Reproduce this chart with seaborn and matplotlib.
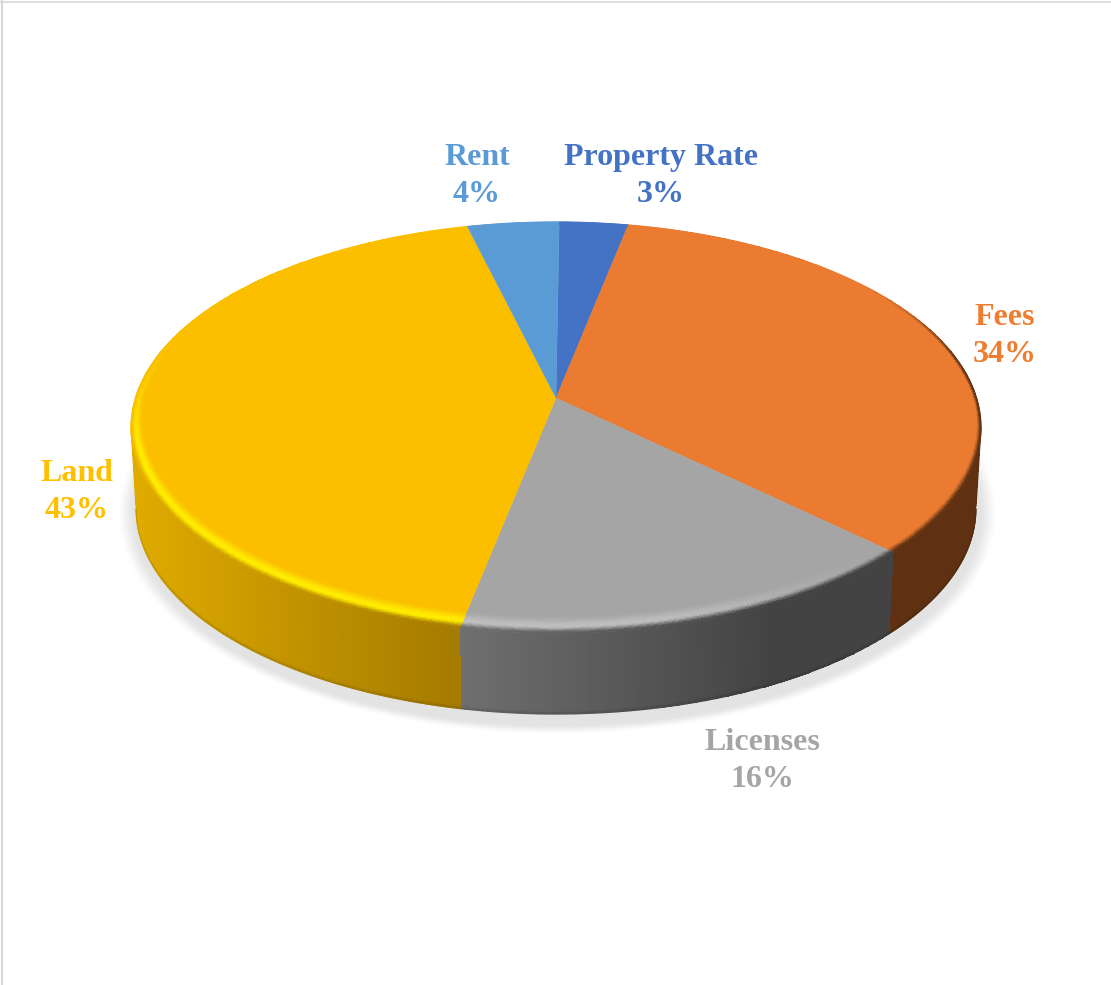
import numpy as np
import seaborn as sns
import matplotlib
matplotlib.use("Agg")
import matplotlib.pyplot as plt
from matplotlib.colors import to_rgb

categories = ["Property Rate", "Fees", "Licenses", "Land", "Rent"]
shares = [3, 34, 16, 43, 4]
slice_hex = ["#4472C4", "#EA7B31", "#A5A5A5", "#FBBF00", "#5B9BD5"]
label_hex = ["#4472C4", "#ED7D31", "#A5A5A5", "#FFC000", "#5B9BD5"]

# Layout of the tilted disc, in figure pixels
WIDTH, HEIGHT = 1111, 985
CX, CY = 556.0, 398.0
AX_U, AX_V, TILT = 420.6, 201.3, 0.1436
DEPTH = 81.0
BASE_SCALE = 0.988
START_DEG = 0.5

label_anchor = {
    "Property Rate": (661, 176),
    "Fees": (1005, 336),
    "Licenses": (762, 761),
    "Land": (77, 492),
    "Rent": (477, 176),
}

# Wall shading: colour at the left and right ends of a horizontal ramp
wall_ramp = {
    "Property Rate": ("#2A4A86", "#2A4A86", 0, 1),
    "Fees": ("#5F3112", "#5F3112", 0, 1),
    "Licenses": ("#707070", "#434343", 455, 770),
    "Land": ("#DFAB00", "#A57B00", 137, 455),
    "Rent": ("#3A6A96", "#3A6A96", 0, 1),
}
# Bevel highlight colour and its strength at the start/end of each slice
bevel_light = {
    "Property Rate": ("#4472C4", 0.0, 0.0),
    "Fees": ("#EA7B31", 0.0, 0.0),
    "Licenses": ("#BEBEBE", 0.0, 1.0),
    "Land": ("#FFEC00", 1.0, 1.0),
    "Rent": ("#5B9BD5", 0.0, 0.0),
}
# How far round the back the dark outer edge of the bevel reaches
rim_onset = {"Property Rate": 0.62, "Fees": 0.62, "Licenses": 0.62, "Land": -0.02, "Rent": 0.62}

sns.set_theme(style="white")
plt.rcParams["font.family"] = ["Liberation Serif", "DejaVu Serif"]
slice_colors = sns.color_palette(slice_hex)
label_colors = sns.color_palette(label_hex)


def project(r, theta):
    """Perspective view of polar disc coordinates (theta clockwise from the back)."""
    u, v = r * np.sin(theta), r * np.cos(theta)
    d = 1 + TILT * v
    return CX + AX_U * u / d, CY - AX_V * v / d


def smooth(t):
    t = np.clip(t, 0, 1)
    return t * t * (3 - 2 * t)


def wall_color(name, x):
    left, right, x0, x1 = wall_ramp[name]
    t = np.clip((x - x0) / (x1 - x0), 0, 1)[..., None]
    return np.array(to_rgb(left)) * (1 - t) + np.array(to_rgb(right)) * t


fig = plt.figure(figsize=(WIDTH / 100, HEIGHT / 100), dpi=100, facecolor="white")
ax = fig.add_axes([0, 0, 1, 1])
ax.set_xlim(0, WIDTH)
ax.set_ylim(HEIGHT, 0)
ax.axis("off")

# Thin frame along the top and left edges
ax.plot([2, 2], [0, HEIGHT], color="#D9D9D9", lw=1.5, zorder=1)
ax.plot([0, WIDTH], [1.5, 1.5], color="#D9D9D9", lw=1.2, zorder=1)

# Soft drop shadow below the disc
gx, gy = np.meshgrid(np.arange(100, 1020), np.arange(400, 760))
rho = np.hypot((gx - 557) / 441.0, (gy - 513) / 221.0)
shadow = np.zeros(gx.shape + (4,))
shadow[..., :3] = 0.80
shadow[..., 3] = 0.55 * (1 - smooth((rho - 0.955) / 0.045))
ax.imshow(shadow, extent=(100, 1020, 760, 400), aspect="auto", zorder=1.5,
          interpolation="bilinear")
ax.set_xlim(0, WIDTH)
ax.set_ylim(HEIGHT, 0)

edges = np.deg2rad(START_DEG) + np.cumsum([0] + shares) / sum(shares) * 2 * np.pi

# Outer walls: only the arc between the two silhouette tangents faces the viewer
tangent = np.arccos(-TILT)
for i, name in enumerate(categories):
    lo = max(edges[i], tangent)
    hi = min(edges[i + 1], 2 * np.pi - tangent)
    if lo >= hi:
        continue
    n = max(int(shares[i] * 8), 8)
    th = np.linspace(lo, hi, n + 1)
    z = np.linspace(0, 1, 41)
    x_top, y_top = project(1.0, th)
    x_base = CX + (x_top - CX) * BASE_SCALE
    X = x_top[None, :] * (1 - z[:, None]) + x_base[None, :] * z[:, None]
    Y = y_top[None, :] + DEPTH * z[:, None]
    xc = 0.25 * (X[:-1, :-1] + X[1:, :-1] + X[:-1, 1:] + X[1:, 1:])
    C = wall_color(name, xc)
    zc = 0.5 * (z[:-1] + z[1:])
    C = C * (1 - 0.12 * smooth((zc - 0.95) / 0.05))[:, None, None]
    ax.pcolormesh(X, Y, C, shading="flat", antialiased=False, zorder=2, rasterized=True)
    for j in range(n):
        ax.plot(x_base[j:j + 2], y_top[j:j + 2] + DEPTH, color=C[-1, j], lw=0.8,
                zorder=2.1, solid_capstyle="round")
    # Near the silhouette the wall needs a clean vertical edge as well
    if hi == 2 * np.pi - tangent:
        ax.plot(X[:-1, -1], Y[:-1, -1], color=C[0, -1], lw=0.8, zorder=2.1)
    if lo == tangent:
        ax.plot(X[:-1, 0], Y[:-1, 0], color=C[0, 0], lw=0.8, zorder=2.1)

# Top surface with a rounded bevel along the rim
for i, name in enumerate(categories):
    n = max(int(shares[i] * 8), 8)
    th = np.linspace(edges[i], edges[i + 1], n + 1)
    base = np.array(slice_colors[i])
    xs, ys = project(1.0, th)
    ax.fill(np.r_[CX, xs], np.r_[CY, ys], color=slice_colors[i], lw=0.3, zorder=3)

    s = np.linspace(0, 1, 21)
    v = np.cos(th)
    width = 0.022 + 0.042 * np.clip(-v, 0, 1)
    R = 1 - width[None, :] * (1 - s[:, None])
    TH = np.broadcast_to(th, R.shape)
    X, Y = project(R, TH)
    light, h0, h1 = bevel_light[name]
    frac = np.linspace(0, 1, n)
    strength = h0 + (h1 - h0) * smooth(frac / 0.7)
    thc = 0.5 * (th[:-1] + th[1:])
    strength = strength * smooth((0.35 - np.cos(thc)) / 0.7)
    rim = smooth((rim_onset[name] - np.cos(thc)) / 0.5)
    xc = project(1.0, thc)[0]
    outer = wall_color(name, xc)
    sc = 0.5 * (s[:-1] + s[1:])[:, None, None]
    peak = base + strength[None, :, None] * (np.array(to_rgb(light)) - base)
    outer_mix = base + rim[None, :, None] * (outer[None, :, :] - base)
    up = smooth(sc / 0.6)
    down = smooth((sc - 0.6) / 0.4)
    C = base * (1 - up) + peak * up
    C = C * (1 - down) + outer_mix * down
    ax.pcolormesh(X, Y, C, shading="flat", antialiased=False, zorder=3.2, rasterized=True)
    # Anti-aliased rim over the mesh border
    for j in range(n):
        ax.plot(xs[j:j + 2], ys[j:j + 2], color=C[-1, j], lw=0.8, zorder=3.3,
                solid_capstyle="round")

# Data labels
for i, name in enumerate(categories):
    x, y = label_anchor[name]
    ax.text(x, y, f"{name}\n{shares[i]}%", color=label_colors[i], fontsize=23,
            fontweight="bold", ha="center", va="center", multialignment="center",
            linespacing=1.32, zorder=5)

fig.savefig("out.png", dpi=100, facecolor="white")
